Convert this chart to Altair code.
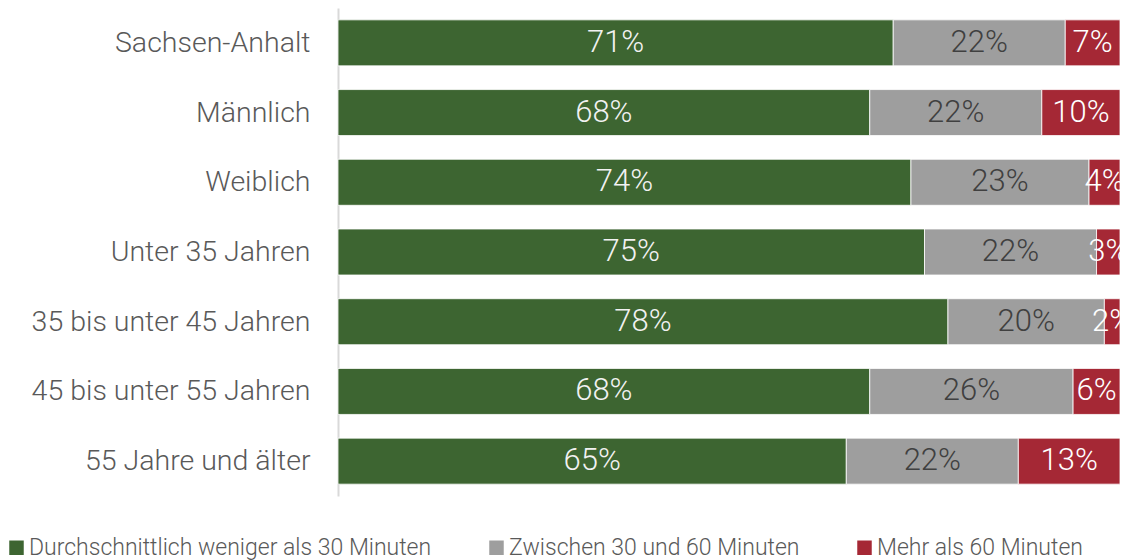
import altair as alt
import pandas as pd

categories = ["Sachsen-Anhalt", "Männlich", "Weiblich", "Unter 35 Jahren",
              "35 bis unter 45 Jahren", "45 bis unter 55 Jahren", "55 Jahre und älter"]
series = ["Durchschnittlich weniger als 30 Minuten", "Zwischen 30 und 60 Minuten", "Mehr als 60 Minuten"]
under30 = [71, 68, 74, 75, 78, 68, 65]
between = [22, 22, 23, 22, 20, 26, 22]
over60 = [7, 10, 4, 3, 2, 6, 13]
colors = ["#3D6531", "#9E9E9E", "#A52835"]
label_colors = ["#F2F2F2", "#404040", "#FFFFFF"]

FONT = "Roboto"

rows = []
for i, c in enumerate(categories):
    for j, (s, vals) in enumerate(zip(series, [under30, between, over60])):
        rows.append({"cat": c, "series": s, "order": j, "value": vals[i], "label": f"{vals[i]}%"})
df = pd.DataFrame(rows)

base = alt.Chart(df).transform_stack(
    stack="value", groupby=["cat"], as_=["x0", "x1"], offset="normalize",
    sort=[alt.SortField("order")]
).transform_calculate(mid="(datum.x0 + datum.x1) / 2")

yenc = alt.Y("cat:N", sort=categories,
             scale=alt.Scale(paddingInner=0.34, paddingOuter=0.17),
             axis=alt.Axis(title=None, ticks=False, labelFontSize=28.5, labelColor="#595959",
                           labelFont=FONT, labelFontWeight=300, labelPadding=28,
                           domainColor="#D9D9D9", domainWidth=2, labelLimit=400))

bars = base.mark_bar(stroke="white", strokeWidth=0.8).encode(
    y=yenc,
    x=alt.X("x0:Q", scale=alt.Scale(domain=[0, 1], nice=False), axis=None),
    x2="x1:Q",
    color=alt.Color("series:N", sort=series,
                    scale=alt.Scale(domain=series, range=colors),
                    legend=alt.Legend(title=None, orient="none", legendX=-333, legendY=528,
                                      direction="horizontal", symbolType="square",
                                      symbolSize=210, symbolStrokeWidth=0,
                                      labelFontSize=23, labelFont=FONT, labelFontWeight=300,
                                      labelColor="#595959", columnPadding=53, labelOffset=1,
                                      labelLimit=600)),
)

text = base.mark_text(fontSize=31, font=FONT, fontWeight=300).encode(
    y=alt.Y("cat:N", sort=categories),
    x=alt.X("mid:Q"),
    text="label:N",
    color=alt.Color("series:N", scale=alt.Scale(domain=series, range=label_colors), legend=None),
)

chart = alt.layer(bars, text).resolve_scale(color="independent").properties(
    width=782, height=488,
    autosize=alt.AutoSizeParams(type="none"),
    padding={"left": 330, "top": 0, "right": 0, "bottom": 72},
).configure_view(stroke=None)

chart.save("out.html", embed_options={"renderer": "svg", "actions": False})
